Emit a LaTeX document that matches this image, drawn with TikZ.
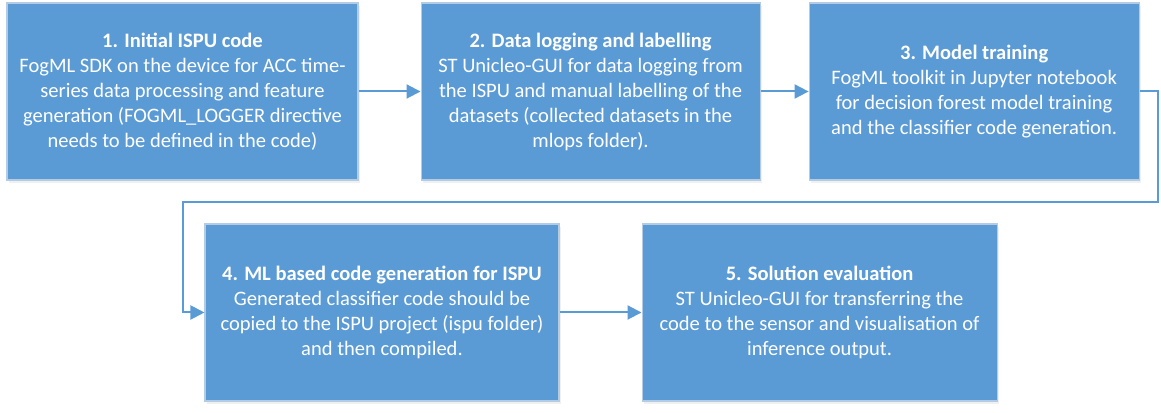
\documentclass[tikz,border=0pt]{standalone}
\usepackage{fontspec}
\setmainfont{Carlito}
\usetikzlibrary{arrows.meta,positioning,shadows}

\definecolor{stepblue}{HTML}{5B9BD5}
\definecolor{stepedge}{HTML}{B4CBE4}

\begin{document}
\begin{tikzpicture}[x=0.75pt,y=-0.75pt,>={Triangle[length=10.5pt,width=10.5pt]},
                    line width=1.5pt,node distance=46.5pt]
  \tikzset{stage/.style={draw=stepedge,line width=0.8pt,fill=stepblue,text=white,
                         align=center,minimum height=132.75pt,inner sep=0pt,
                         font=\fontsize{15.4}{18.75}\selectfont,
                         drop shadow={opacity=0.12,shadow xshift=1.5pt,shadow yshift=-2pt}},
           flow/.style={->,draw=stepblue}}
  \useasboundingbox (0,0) rectangle (1161,413);

  \node[stage,minimum width=263.25pt] (A) at (182.5,91.5)
    {\textbf{1. Initial ISPU code}\\FogML SDK on the device for ACC time-\\series data processing and feature\\generation (FOGML\_LOGGER directive\\needs to be defined in the code)};
  \node[stage,minimum width=254.25pt] (B) [right=46.5pt of A]
    {\textbf{2. Data logging and labelling}\\ST Unicleo-GUI for data logging from\\the ISPU and manual labelling of the\\datasets (collected datasets in the\\mlops folder).};
  \node[stage,minimum width=247.5pt] (C) [right=36pt of B]
    {\textbf{3. Model training}\\FogML toolkit in Jupyter notebook\\for decision forest model training\\and the classifier code generation.};
  \node[stage,minimum width=265.5pt] (D) at (382,312.5)
    {\textbf{4. ML based code generation for ISPU}\\Generated classifier code should be\\copied to the ISPU project (ispu folder)\\and then compiled.};
  \node[stage,minimum width=266.25pt] (E) [right=61.5pt of D]
    {\textbf{5. Solution evaluation}\\ST Unicleo-GUI for transferring the\\code to the sensor and visualisation of\\inference output.};

  \coordinate (k1) at (1158,202);
  \coordinate (k2) at (183,202);

  \draw[flow] (A) -- (B);
  \draw[flow] (B) -- (C);
  \draw[flow] (C.east) -- (C.east -| k1) -- (k1) -- (k2) |- (D.west);
  \draw[flow] (D) -- (E);
\end{tikzpicture}
\end{document}
